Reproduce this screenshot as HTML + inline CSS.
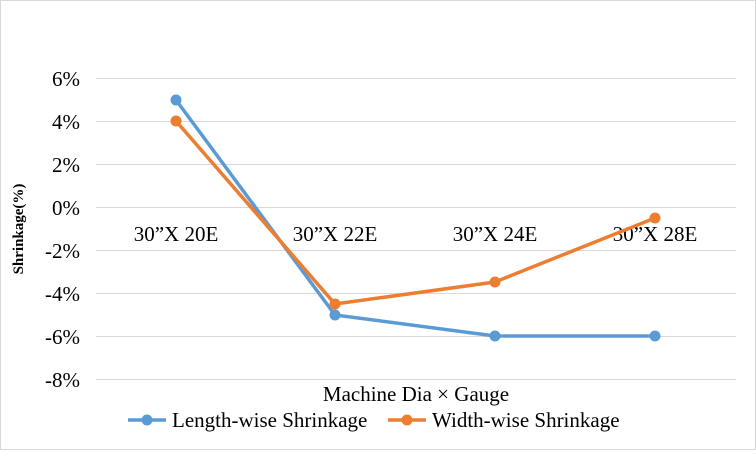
<!DOCTYPE html>
<html><head><style>body{margin:0;background:#fff} svg text{font-family:"Liberation Serif",serif}</style></head><body>
<svg width="756" height="450" xmlns="http://www.w3.org/2000/svg" style="font-family:'Liberation Serif',serif">
<rect x="0.5" y="0.5" width="755" height="449" fill="#fff" stroke="#d9d9d9"/>
<g stroke="#d9d9d9" stroke-width="1">
<line x1="96" x2="736" y1="78.5" y2="78.5"/><line x1="96" x2="736" y1="121.5" y2="121.5"/>
<line x1="96" x2="736" y1="164.5" y2="164.5"/><line x1="96" x2="736" y1="207.5" y2="207.5"/>
<line x1="96" x2="736" y1="250.5" y2="250.5"/><line x1="96" x2="736" y1="293.5" y2="293.5"/>
<line x1="96" x2="736" y1="336.5" y2="336.5"/><line x1="96" x2="736" y1="379.5" y2="379.5"/>
</g>
<g font-size="21" fill="#000" text-anchor="end">
<text x="80" y="86">6%</text><text x="80" y="129">4%</text><text x="80" y="172">2%</text>
<text x="80" y="215">0%</text><text x="80" y="258">-2%</text><text x="80" y="301">-4%</text>
<text x="80" y="344">-6%</text><text x="80" y="387">-8%</text>
</g>
<g font-size="21" text-anchor="middle">
<text x="176" y="241">30”X 20E</text><text x="335" y="241">30”X 22E</text>
<text x="495" y="241">30”X 24E</text><text x="655" y="241">30”X 28E</text>
<text x="416" y="401">Machine Dia × Gauge</text>
</g>
<text transform="translate(23,229) rotate(-90)" font-size="15" font-weight="bold" text-anchor="middle">Shrinkage(%)</text>
<polyline fill="none" stroke="#5b9bd5" stroke-width="3.5" points="176,100 335,315 495,336 655,336"/>
<polyline fill="none" stroke="#ed7d31" stroke-width="3.5" points="176,121 335,304 495,282 655,218"/>
<g fill="#5b9bd5"><circle cx="176" cy="100" r="5.5"/><circle cx="335" cy="315" r="5.5"/><circle cx="495" cy="336" r="5.5"/><circle cx="655" cy="336" r="5.5"/></g>
<g fill="#ed7d31"><circle cx="176" cy="121" r="5.5"/><circle cx="335" cy="304" r="5.5"/><circle cx="495" cy="282" r="5.5"/><circle cx="655" cy="218" r="5.5"/></g>
<line x1="128" x2="166" y1="420" y2="420" stroke="#5b9bd5" stroke-width="3.5"/><circle cx="147" cy="420" r="5.5" fill="#5b9bd5"/>
<text x="172" y="427" font-size="21">Length-wise Shrinkage</text>
<line x1="388" x2="426" y1="420" y2="420" stroke="#ed7d31" stroke-width="3.5"/><circle cx="407" cy="420" r="5.5" fill="#ed7d31"/>
<text x="432" y="427" font-size="21">Width-wise Shrinkage</text>
</svg>
</body></html>
